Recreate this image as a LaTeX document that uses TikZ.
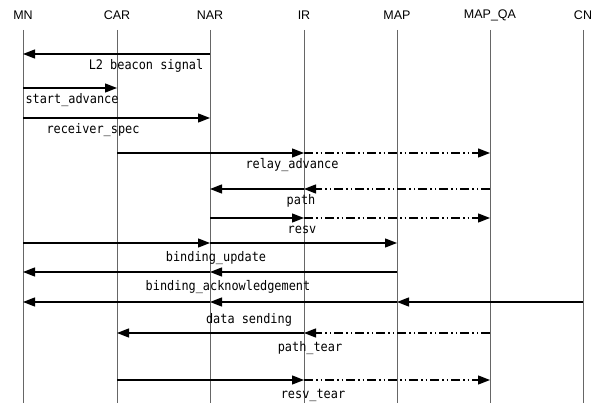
\documentclass[tikz,border=0pt]{standalone}
\usepackage{fontspec}
\newfontfamily\hdrfont{Liberation Sans}
\newfontfamily\msgfont[FakeStretch=0.9]{DejaVu Sans Mono}
\usepackage{tikz}
\usetikzlibrary{
  arrows.meta,
  positioning
}

\begin{document}
\begin{tikzpicture}[
  x=1pt, y=-1pt,
  hdr/.style={font=\hdrfont\fontsize{12.5}{14}\selectfont, inner sep=0pt},
  lbl/.style={font=\msgfont\fontsize{13.2}{15}\selectfont, inner sep=0pt},
  life/.style={draw=black!60, line width=0.7pt},
  arr/.style={-{Triangle[length=12pt, width=9pt]}, line width=1.3pt},
  darr/.style={arr, dash pattern=on 9pt off 3pt on 1.5pt off 3pt on 1.5pt off 3pt},
]
\useasboundingbox (0,0) rectangle (602,403);

% Entities
\node[hdr] (mn) at (23,15) {MN};
\node[hdr] (car) at (117,15) {CAR};
\node[hdr] (nar) at (210,15) {NAR};
\node[hdr] (ir) at (304,15) {IR};
\node[hdr] (map) at (397,15) {MAP};
\node[hdr] (mapqa) at (490,15) {MAP\_QA};
\node[hdr] (cn) at (583,15) {CN};

% Lifelines
\coordinate (top) at (0,30);
\coordinate (bot) at (0,403);
\foreach \n in {mn, car, nar, ir, map, mapqa, cn}
  \draw[life] (\n |- top) -- (\n |- bot);

% Message rows
\coordinate (r1) at (0,54);
\coordinate (r2) at (0,88);
\coordinate (r3) at (0,118);
\coordinate (r4) at (0,153);
\coordinate (r5) at (0,189);
\coordinate (r6) at (0,218);
\coordinate (r7) at (0,243);
\coordinate (r8) at (0,272);
\coordinate (r9) at (0,302);
\coordinate (r10) at (0,333);
\coordinate (r11) at (0,380);

\draw[arr] (nar |- r1) -- (mn |- r1);
\draw[arr] (mn |- r2) -- (car |- r2);
\draw[arr] (mn |- r3) -- (nar |- r3);

\draw[arr] (car |- r4) -- (ir |- r4);
\draw[darr] (ir |- r4) -- (mapqa |- r4);

\draw[darr] (mapqa |- r5) -- (ir |- r5);
\draw[arr] (ir |- r5) -- (nar |- r5);

\draw[arr] (nar |- r6) -- (ir |- r6);
\draw[darr] (ir |- r6) -- (mapqa |- r6);

\draw[arr] (mn |- r7) -- (nar |- r7);
\draw[arr] (nar |- r7) -- (map |- r7);

\draw[arr] (map |- r8) -- (nar |- r8);
\draw[arr] (nar |- r8) -- (mn |- r8);

\draw[arr] (cn |- r9) -- (map |- r9);
\draw[arr] (map |- r9) -- (nar |- r9);
\draw[arr] (nar |- r9) -- (mn |- r9);

\draw[darr] (mapqa |- r10) -- (ir |- r10);
\draw[arr] (ir |- r10) -- (car |- r10);

\draw[arr] (car |- r11) -- (ir |- r11);
\draw[darr] (ir |- r11) -- (mapqa |- r11);

% Labels
\node[lbl] (l1) at (146,66) {L2 beacon signal};
\node[lbl] (l2) at (72,100) {start\_advance};
\node[lbl] (l3) at (93,130) {receiver\_spec};
\node[lbl] (l4) at (292,165) {relay\_advance};
\node[lbl] (l5) at (301,201) {path};
\node[lbl] (l6) at (302,230) {resv};
\node[lbl] (l7) at (216,258) {binding\_update};
\node[lbl] (l8) at (228,287) {binding\_acknowledgement};
\node[lbl] (l9) at (249,320) {data sending};
\node[lbl] (l10) at (310,348) {path\_tear};
\node[lbl] (l11) at (313,395) {resv\_tear};

\end{tikzpicture}
\end{document}
